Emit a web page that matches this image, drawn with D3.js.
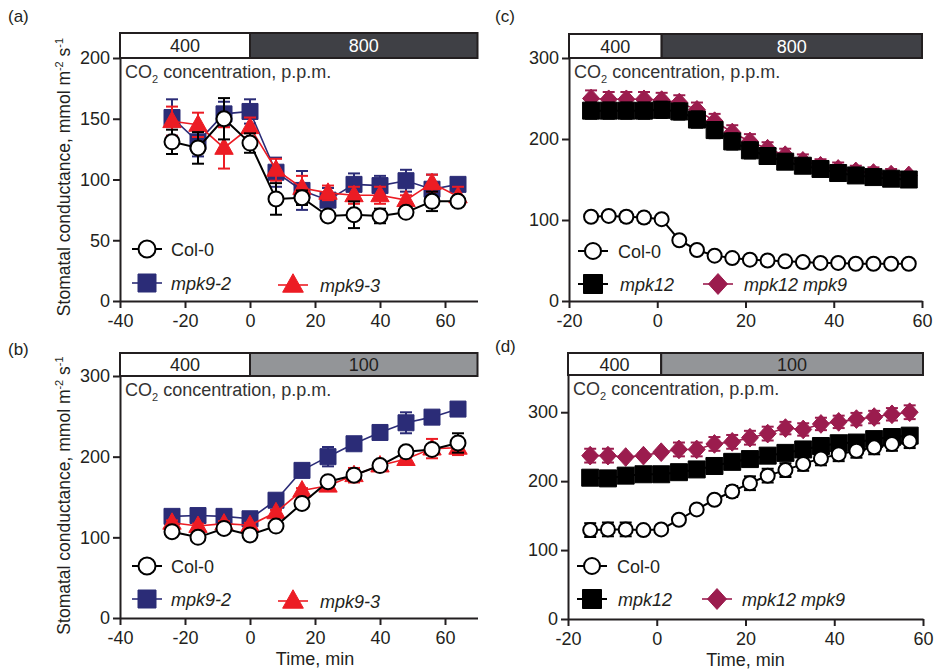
<!DOCTYPE html>
<html>
<head>
<meta charset="utf-8">
<script src="https://cdn.jsdelivr.net/npm/d3@7"></script>
<style>
  body { margin: 0; background: #fff; }
  svg { display: block; font-family: "Liberation Sans", Arial, sans-serif; }
</style>
</head>
<body>
<svg id="chart" width="938" height="669"></svg>
<script>
// ---- data ----
var timesAB = [-24, -16, -8, 0, 8, 16, 24, 32, 40, 48, 56, 64];
var timesCD = [-15, -11, -7, -3, 1, 5, 9, 13, 17, 21, 25, 29, 33, 37, 41, 45, 49, 53, 57];

// (a) 400 -> 800 ppm
var aCol0 = [131, 126, 150, 130, 84, 85, 70, 71, 70, 73, 82, 82];
var aCol0Err = [10, 13, 17, 8, 13, 6, 3, 11, 6, 3, 8, 3];
var aMpk92 = [151, 131, 154, 156, 106, 91, 83, 96, 95, 99, 92, 96];
var aMpk92Err = [15, 12, 10, 10, 12, 16, 10, 9, 8, 9, 12, 3];
var aMpk93 = [148, 145, 126, 143, 108, 93, 89, 87, 87, 83, 97, 86];
var aMpk93Err = [12, 10, 17, 8, 9, 10, 6, 7, 7, 4, 7, 8];

// (b) 400 -> 100 ppm
var bCol0 = [107, 100, 111, 103, 114, 142, 169, 177, 189, 206, 209, 217];
var bCol0Err = [3, 3, 3, 3, 3, 3, 3, 4, 3, 4, 5, 12];
var bMpk92 = [126, 127, 126, 123, 146, 183, 200, 216, 230, 242, 249, 259];
var bMpk92Err = [3, 3, 3, 3, 3, 3, 12, 3, 3, 13, 3, 3];
var bMpk93 = [118, 114, 117, 115, 131, 158, 164, 177, 189, 197, 210, 211];
var bMpk93Err = [3, 3, 3, 3, 3, 3, 4, 9, 3, 4, 12, 9];

// (c) 400 -> 800 ppm
var cCol0 = [104, 105, 104, 103, 101, 75, 63, 56, 53, 51, 50, 49, 48, 47, 47, 46, 46, 46, 46];
var cCol0Err = [2, 2, 6, 6, 2, 2, 2, 2, 2, 2, 2, 2, 2, 2, 2, 2, 2, 2, 2];
var cMpk12 = [235, 235, 235, 235, 236, 234, 224, 211, 197, 186, 179, 172, 167, 163, 158, 155, 153, 151, 150];
var cMpk12Err = [10, 10, 10, 10, 10, 10, 10, 10, 10, 10, 9, 9, 8, 8, 7, 7, 7, 7, 7];
var cMpk12Mpk9 = [250, 249, 249, 249, 248, 245, 236, 222, 208, 197, 188, 180, 173, 167, 163, 160, 158, 156, 155];
var cMpk12Mpk9Err = [10, 9, 9, 9, 9, 9, 9, 9, 9, 9, 8, 8, 8, 8, 8, 7, 7, 7, 4];

// (d) 400 -> 100 ppm
var dCol0 = [129, 130, 130, 129, 130, 144, 159, 173, 185, 197, 208, 216, 225, 233, 239, 244, 249, 254, 258];
var dCol0Err = [10, 10, 10, 3, 3, 3, 3, 3, 8, 10, 10, 10, 10, 10, 10, 10, 10, 10, 10];
var dMpk12 = [205, 204, 208, 210, 210, 213, 217, 222, 228, 232, 237, 241, 246, 251, 255, 256, 261, 264, 266];
var dMpk12Err = [5, 5, 5, 5, 5, 5, 5, 5, 5, 5, 5, 5, 5, 5, 5, 5, 5, 5, 5];
var dMpk12Mpk9 = [237, 237, 235, 237, 242, 246, 246, 254, 257, 263, 269, 277, 275, 283, 286, 290, 293, 297, 300];
var dMpk12Mpk9Err = [10, 10, 3, 3, 3, 10, 10, 10, 10, 10, 10, 9, 9, 9, 9, 9, 9, 9, 10];

var yTicksA = [0, 50, 100, 150, 200];
var yTicks300 = [0, 100, 200, 300];
var xTicksAB = [-40, -20, 0, 20, 40, 60];
var xTicksCD = [-20, 0, 20, 40, 60];

// ---- styles ----
var NAVY = "#2b2c77", RED = "#ec1c24", MAROON = "#9b1c4e", INK = "#231f20";
var DARK = "#3f4045", GRAY = "#939598";
var FS = 18;

var svg = d3.select("#chart");

function shapePath(kind, s) {
  if (kind === "square") return "M" + (-s) + "," + (-s) + "H" + s + "V" + s + "H" + (-s) + "Z";
  if (kind === "triangle") return "M0," + (-s * 1.25) + "L" + (s * 1.15) + "," + (s * 0.8) + "L" + (-s * 1.15) + "," + (s * 0.8) + "Z";
  if (kind === "diamond") return "M0," + (-s * 1.1) + "L" + s + ",0L0," + (s * 1.1) + "L" + (-s) + ",0Z";
  return null;
}

function marker(g, kind, color, s, cx, cy) {
  if (kind === "circle") {
    g.append("circle").attr("cx", cx).attr("cy", cy).attr("r", s)
      .attr("fill", "#fff").attr("stroke", color).attr("stroke-width", 2);
  } else {
    g.append("path").attr("d", shapePath(kind, s))
      .attr("transform", "translate(" + cx + "," + cy + ")")
      .attr("fill", color).attr("stroke", color).attr("stroke-width", 1);
  }
}

function drawSeries(g, x, y, times, vals, errs, color, kind, size, lw) {
  var pts = times.map(function(t, i) { return { t: t, v: vals[i], e: errs[i] }; });
  var line = d3.line().x(function(d) { return x(d.t); }).y(function(d) { return y(d.v); });
  g.append("path").datum(pts).attr("d", line)
    .attr("fill", "none").attr("stroke", color).attr("stroke-width", lw);
  var eb = g.append("g").attr("stroke", color).attr("stroke-width", 2);
  pts.forEach(function(d) {
    var cx = x(d.t);
    eb.append("line").attr("x1", cx).attr("x2", cx).attr("y1", y(d.v - d.e)).attr("y2", y(d.v + d.e));
    eb.append("line").attr("x1", cx - 6).attr("x2", cx + 6).attr("y1", y(d.v + d.e)).attr("y2", y(d.v + d.e));
    eb.append("line").attr("x1", cx - 6).attr("x2", cx + 6).attr("y1", y(d.v - d.e)).attr("y2", y(d.v - d.e));
  });
  pts.forEach(function(d) { marker(g, kind, color, size, x(d.t), y(d.v)); });
}

function drawPanel(cfg) {
  var g = svg.append("g");
  var x = d3.scaleLinear().domain(cfg.xDomain).range([cfg.left, cfg.right]);
  var y = d3.scaleLinear().domain(cfg.yDomain).range([cfg.bottom, cfg.top]);

  // CO2 header bar
  var hb = g.append("g").attr("stroke", INK).attr("stroke-width", 2);
  hb.append("rect").attr("x", x(cfg.xDomain[0])).attr("y", cfg.headerTop)
    .attr("width", x(cfg.switchAt) - x(cfg.xDomain[0])).attr("height", cfg.top - cfg.headerTop)
    .attr("fill", "#fff");
  hb.append("rect").attr("x", x(cfg.switchAt)).attr("y", cfg.headerTop)
    .attr("width", x(cfg.xDomain[1]) - x(cfg.switchAt)).attr("height", cfg.top - cfg.headerTop)
    .attr("fill", cfg.headerFill);
  var hy = (cfg.headerTop + cfg.top) / 2 + 6.5;
  g.append("text").attr("x", (x(cfg.xDomain[0]) + x(cfg.switchAt)) / 2).attr("y", hy)
    .attr("text-anchor", "middle").attr("font-size", FS).attr("fill", INK).text("400");
  g.append("text").attr("x", (x(cfg.switchAt) + x(cfg.xDomain[1])) / 2).attr("y", hy)
    .attr("text-anchor", "middle").attr("font-size", FS).attr("fill", cfg.headerTextFill).text(cfg.afterLabel);

  // axes (plain hyphen for negatives, as in the figure)
  var fmt = function(d) { return String(d); };
  var xa = g.append("g").attr("transform", "translate(0," + cfg.bottom + ")")
    .call(d3.axisBottom(x).tickValues(cfg.xTicks).tickFormat(fmt).tickSize(7).tickSizeOuter(0).tickPadding(6));
  var ya = g.append("g").attr("transform", "translate(" + cfg.left + ",0)")
    .call(d3.axisLeft(y).tickValues(cfg.yTicks).tickFormat(fmt).tickSize(7).tickSizeOuter(0).tickPadding(3));
  [xa, ya].forEach(function(a) {
    a.select(".domain").attr("stroke", INK).attr("stroke-width", 2);
    a.selectAll(".tick line").attr("stroke", INK).attr("stroke-width", 2);
    a.selectAll(".tick text").attr("font-size", FS).attr("fill", INK)
      .attr("font-family", "'Liberation Sans', Arial, sans-serif");
  });

  // CO2 label
  var co = g.append("text").attr("x", cfg.left + 5).attr("y", cfg.top + 20)
    .attr("font-size", FS).attr("fill", "#333");
  co.append("tspan").text("CO");
  co.append("tspan").attr("font-size", 11).attr("dy", 5).text("2");
  co.append("tspan").attr("dy", -5).text(" concentration, p.p.m.");

  // series
  cfg.series.forEach(function(s) {
    drawSeries(g, x, y, cfg.times, s.vals, s.errs, s.color, s.kind, s.size, s.lw);
  });

  // legend
  cfg.legend.forEach(function(l) {
    var s = cfg.series[l.idx];
    g.append("line").attr("x1", l.x - 15).attr("x2", l.x + 15).attr("y1", l.y).attr("y2", l.y)
      .attr("stroke", s.color).attr("stroke-width", s.lw);
    marker(g, s.kind, s.color, s.size + 1, l.x, l.y);
    g.append("text").attr("x", l.tx).attr("y", l.y + 6.5).attr("font-size", FS).attr("fill", INK)
      .attr("font-style", s.italic ? "italic" : "normal").text(s.name);
  });

  // panel tag
  g.append("text").attr("x", cfg.tagX).attr("y", cfg.tagY).attr("font-size", 17).attr("fill", INK).text(cfg.tag);

  // axis titles
  if (cfg.yTitle) {
    var yt = g.append("text").attr("transform", "translate(" + cfg.yTitleX + "," + ((cfg.headerTop + cfg.bottom) / 2 + 10) + ") rotate(-90)")
      .attr("text-anchor", "middle").attr("font-size", 17.5).attr("fill", INK);
    yt.append("tspan").text("Stomatal conductance, mmol m");
    yt.append("tspan").attr("font-size", 11).attr("dy", -7).text("-2");
    yt.append("tspan").attr("dy", 7).text(" s");
    yt.append("tspan").attr("font-size", 11).attr("dy", -7).text("-1");
  }
  if (cfg.xTitle) {
    g.append("text").attr("x", x(20)).attr("y", cfg.bottom + 47).attr("text-anchor", "middle")
      .attr("font-size", FS).attr("fill", INK).text("Time, min");
  }
}

var abSeries = function(col0, col0e, m2, m2e, m3, m3e) {
  return [
    { name: "mpk9-2", vals: m2, errs: m2e, color: NAVY, kind: "square", size: 8, lw: 1.6, italic: true },
    { name: "mpk9-3", vals: m3, errs: m3e, color: RED, kind: "triangle", size: 8, lw: 1.6, italic: true },
    { name: "Col-0", vals: col0, errs: col0e, color: "#000", kind: "circle", size: 7.5, lw: 2, italic: false }
  ];
};
var cdSeries = function(col0, col0e, m12, m12e, m129, m129e) {
  return [
    { name: "mpk12 mpk9", vals: m129, errs: m129e, color: MAROON, kind: "diamond", size: 8.5, lw: 1.6, italic: true },
    { name: "mpk12", vals: m12, errs: m12e, color: "#000", kind: "square", size: 8.5, lw: 2, italic: true },
    { name: "Col-0", vals: col0, errs: col0e, color: "#000", kind: "circle", size: 7, lw: 2, italic: false }
  ];
};

drawPanel({
  tag: "(a)", tagX: 8, tagY: 22, times: timesAB,
  xDomain: [-40, 70], yDomain: [0, 200], xTicks: xTicksAB, yTicks: yTicksA,
  left: 120, right: 477.5, top: 58, bottom: 301, headerTop: 33, switchAt: 0,
  headerFill: DARK, headerTextFill: "#fff", afterLabel: "800",
  series: abSeries(aCol0, aCol0Err, aMpk92, aMpk92Err, aMpk93, aMpk93Err),
  legend: [{ idx: 2, x: 147, y: 249, tx: 171 }, { idx: 0, x: 147, y: 283, tx: 171 }, { idx: 1, x: 293, y: 285, tx: 320 }],
  yTitle: true, yTitleX: 70, xTitle: false
});
drawPanel({
  tag: "(b)", tagX: 8, tagY: 355, times: timesAB,
  xDomain: [-40, 70], yDomain: [0, 300], xTicks: xTicksAB, yTicks: yTicks300,
  left: 120, right: 477.5, top: 376, bottom: 618, headerTop: 353, switchAt: 0,
  headerFill: GRAY, headerTextFill: INK, afterLabel: "100",
  series: abSeries(bCol0, bCol0Err, bMpk92, bMpk92Err, bMpk93, bMpk93Err),
  legend: [{ idx: 2, x: 147, y: 566, tx: 171 }, { idx: 0, x: 147, y: 599, tx: 171 }, { idx: 1, x: 293, y: 601, tx: 320 }],
  yTitle: true, yTitleX: 70, xTitle: true
});
drawPanel({
  tag: "(c)", tagX: 495, tagY: 22, times: timesCD,
  xDomain: [-20, 60], yDomain: [0, 300], xTicks: xTicksCD, yTicks: yTicks300,
  left: 569, right: 922, top: 58, bottom: 301, headerTop: 34, switchAt: 1,
  headerFill: DARK, headerTextFill: "#fff", afterLabel: "800",
  series: cdSeries(cCol0, cCol0Err, cMpk12, cMpk12Err, cMpk12Mpk9, cMpk12Mpk9Err),
  legend: [{ idx: 2, x: 593, y: 251, tx: 618 }, { idx: 1, x: 593, y: 284, tx: 620 }, { idx: 0, x: 718, y: 284, tx: 744 }],
  yTitle: false, xTitle: false
});
drawPanel({
  tag: "(d)", tagX: 495, tagY: 352, times: timesCD,
  xDomain: [-20, 60], yDomain: [0, 354], xTicks: xTicksCD, yTicks: yTicks300,
  left: 568, right: 923, top: 375, bottom: 619, headerTop: 353, switchAt: 1,
  headerFill: GRAY, headerTextFill: INK, afterLabel: "100",
  series: cdSeries(dCol0, dCol0Err, dMpk12, dMpk12Err, dMpk12Mpk9, dMpk12Mpk9Err),
  legend: [{ idx: 2, x: 592, y: 566, tx: 617 }, { idx: 1, x: 592, y: 599, tx: 618 }, { idx: 0, x: 717, y: 599, tx: 742 }],
  yTitle: false, xTitle: true
});
</script>
</body>
</html>
